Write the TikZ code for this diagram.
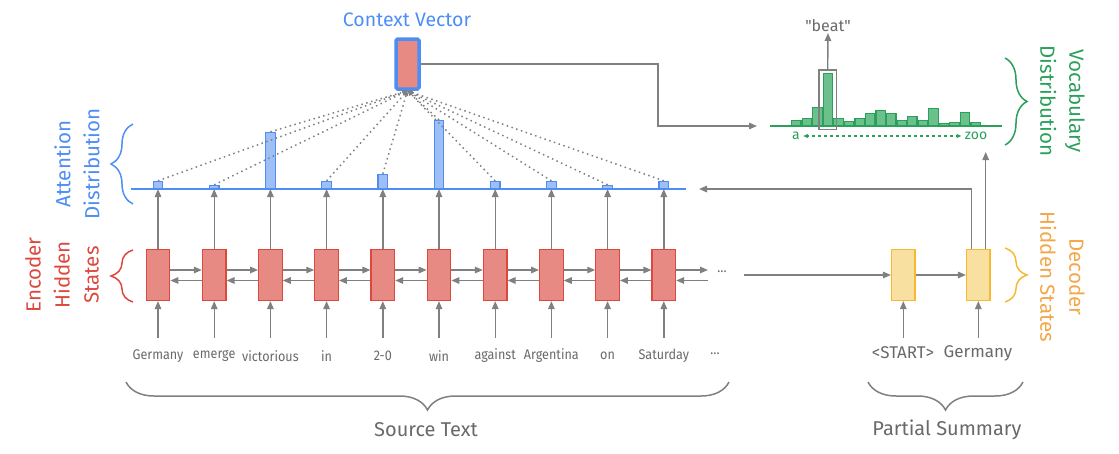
\documentclass[tikz,border=0pt]{standalone}
\usepackage{fontspec}
\setmainfont{Fira Sans}
\newfontfamily\wordfont[FakeStretch=0.9]{Fira Sans}
\newcommand\dquote{\XeTeXglyph\XeTeXglyphindex "quotedbl"\relax}
\usetikzlibrary{arrows.meta,decorations.pathreplacing}

\definecolor{linegray}{RGB}{128,128,128}
\definecolor{textgray}{RGB}{105,105,105}
\definecolor{encred}{RGB}{220,72,62}
\definecolor{encfill}{RGB}{231,138,132}
\definecolor{attblue}{RGB}{78,141,245}
\definecolor{attfill}{RGB}{157,191,245}
\definecolor{vocgreen}{RGB}{42,160,90}
\definecolor{vocfill}{RGB}{108,192,140}
\definecolor{decyellow}{RGB}{247,185,50}
\definecolor{decfill}{RGB}{248,224,160}
\definecolor{decorange}{RGB}{244,166,72}

\tikzset{
  arr/.style={draw=linegray,line width=1.4pt,-{Triangle[length=8pt,width=6.5pt]}},
  attn/.style={draw=linegray,line width=1.5pt,dash pattern=on 1.5pt off 3.5pt,-{Triangle[length=5pt,width=4pt]}},
  enccell/.style={draw=encred,fill=encfill,line width=1.2pt,minimum width=23.5pt,minimum height=51pt,inner sep=0pt},
  deccell/.style={enccell,draw=decyellow,fill=decfill},
  attbar/.style={draw=attblue,fill=attfill,line width=1.2pt,minimum width=9.5pt,inner sep=0pt,anchor=south},
  vocbar/.style={draw=vocgreen,fill=vocfill,line width=1.2pt,minimum width=9.4pt,inner sep=0pt,anchor=south west},
  word/.style={text=textgray,font=\wordfont\fontsize{14}{16}\selectfont,inner sep=0pt},
  big/.style={text=textgray,font=\fontsize{20}{24}\selectfont},
  side/.style={font=\fontsize{20.5}{29}\selectfont,align=center},
  curly/.style={decorate,decoration={brace,amplitude=#1},line width=1.5pt},
}

\begin{document}
\begin{tikzpicture}[x=1pt,y=-1pt]
\useasboundingbox (0,0) rectangle (1119,453);

% context vector
\node[draw=attblue,fill=encfill,line width=3.5pt,minimum width=23pt,minimum height=50pt,inner sep=0pt,rounded corners=1.5pt] (cv) at (407.5,64) {};
\node[text=attblue,font=\fontsize{19.5}{22}\selectfont] (cvlabel) at (407,20) {Context Vector};

% encoder
\draw[attblue,line width=1.5pt] (131,189) -- (686,189);
\foreach \w/\h [count=\i] in {Germany/7,emerge/3,victorious/56,in/7,2-0/14,win/68,against/7,Argentina/7,on/3,Saturday/7}{
  \pgfmathsetmacro{\cx}{158+56.2*(\i-1)}
  \node[enccell] (e\i) at (\cx,275) {};
  \node[word] (w\i) at (\cx,356) {\w};
  \coordinate (in\i) at (\cx,338);
  \node[attbar,minimum height=\h pt] (b\i) at (\cx,189) {};
  \draw[arr] (in\i) -- (e\i);
  \draw[arr] (e\i) -- (b\i.south);
}
\foreach \i [evaluate=\i as \j using int(\i+1)] in {1,...,9}{
  \draw[arr] ([yshift=5pt]e\i.east) -- ([yshift=5pt]e\j.west);
  \draw[arr] ([yshift=-5.5pt]e\j.west) -- ([yshift=-5.5pt]e\i.east);
}
\coordinate (encend) at (708,275);
\draw[arr] ([yshift=5pt]e10.east) -- ([yshift=5pt]encend);
\draw[arr] ([yshift=-5.5pt]encend) -- ([yshift=-5.5pt]e10.east);
\node[word] (edots) at (722,272) {…};
\node[word] (wdots) at (715,354) {…};

% attention to context vector
\foreach \i in {1,...,10}
  \draw[attn] (b\i.north) -- (cv.south);

% vocabulary distribution
\draw[vocgreen,line width=1.5pt] (770,126) -- (1002,126);
\foreach \h [count=\i] in {5.3,6.7,17.7,52,6.7,4.3,6.7,12.3,14.7,12.3,5,9.3,5.3,17.3,2.3,3,13.3,2.7}
  \node[vocbar,minimum height=\h pt] (v\i) at ({791+10.55*(\i-1)},126) {};
\node[draw=linegray,line width=1.4pt,minimum width=17.5pt,minimum height=59.5pt,inner sep=0pt] (beatbox) at (827.7,99.7) {};
\node[text=textgray,font=\fontsize{16}{18}\selectfont,anchor=south,inner sep=1pt] (beat) at (828,33) {\dquote beat\dquote};
\draw[arr] (beatbox.north) -- (beat.south);
\node[text=vocgreen,font=\fontsize{14}{16}\selectfont] (a) at (796,136) {a};
\node[text=vocgreen,font=\fontsize{14}{16}\selectfont] (zoo) at (976,136) {zoo};
\draw[vocgreen,line width=1.2pt,dashed,{Stealth[length=5pt,width=4.5pt]}-{Stealth[length=5pt,width=4.5pt]}] (a) -- (zoo);

\coordinate (bend) at (658,126);
\coordinate (vin) at (757,126);
\draw[arr] (cv.east) -| (bend) -- (vin);

% decoder
\node[deccell] (d1) at (903.3,275) {};
\node[deccell] (d2) at (978.3,275) {};
\node[word,font=\fontsize{17}{19}\selectfont] (s1) at (903,353) {<START>};
\node[word,font=\fontsize{17}{19}\selectfont] (s2) at (978,353) {Germany};
\coordinate (din1) at (903.3,338);
\coordinate (din2) at (978.3,338);
\draw[arr] (din1) -- (d1);
\draw[arr] (din2) -- (d2);
\draw[arr] (d1) -- (d2);
\coordinate (encout) at (744,275);
\draw[arr] (encout) -- (d1);
\coordinate (attin) at (699,189);
\draw[arr] ([xshift=-6.6pt]d2.north) |- (attin);
\coordinate (vout) at (985.7,152);
\draw[arr] ([xshift=7.4pt]d2.north) -- (vout);

% braces and labels
\draw[curly=22pt,attblue] (133,204) -- (133,124);
\draw[curly=22pt,encred] (133,302) -- (133,250);
\draw[curly=22pt,vocgreen] (1005,58) -- (1005,145);
\draw[curly=22pt,decyellow] (1005,248) -- (1005,302);
\draw[curly=28pt,linegray] (729,382) -- (126,382);
\draw[curly=28pt,linegray] (1023,382) -- (868,382);

\node[side,text=encred,rotate=90] (enclabel) at (62,275) {Encoder\\Hidden\\States};
\node[side,text=attblue,rotate=90] (attlabel) at (77,164) {Attention\\Distribution};
\node[side,text=vocgreen,rotate=-90] (voclabel) at (1062.5,101) {Vocabulary\\Distribution};
\node[side,text=decorange,rotate=-90] (declabel) at (1062.5,277) {Decoder\\Hidden States};
\node[big] (src) at (426,430) {Source Text};
\node[big] (partial) at (947,430) {Partial Summary};
\end{tikzpicture}
\end{document}
